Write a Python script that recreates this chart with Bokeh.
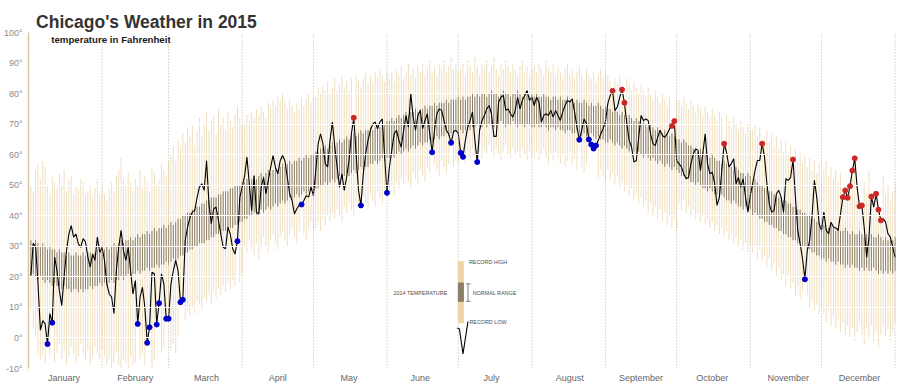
from bokeh.plotting import figure
from bokeh.models import Range1d, FixedTicker, PrintfTickFormatter, Label, ColumnDataSource
from bokeh.embed import file_html
from bokeh.resources import INLINE
from bokeh.core.properties import value

# ---------------- data (degrees Fahrenheit, one value per day) ----------------
month_names = ["January", "February", "March", "April", "May", "June", "July",
               "August", "September", "October", "November", "December"]
month_ticks = [15, 45, 75, 105, 135, 165, 195, 228, 258, 288, 320, 350]
month_ends = [31, 59, 90, 120, 151, 181, 212, 243, 273, 304, 334, 365]
y_ticks = [-10, 0, 10, 20, 30, 40, 50, 60, 70, 80, 90, 100]

temp_2015 = (
    [20.5, 31, 30, 18, 2.5, 5.7, 4.6, -2, 8, 5, 26.5, 22, 15.5, 10.6, 20, 28.6, 34, 36.8, 33, 34,
     30.8, 29.7, 32.5, 31.4, 26.5, 23.2, 27.5, 25.4, 33, 28, 29.7]
    + [25.4, 17.7, 14.4, 13.4, 8, 22, 29.7, 35.2, 28.6, 25.4, 29.7, 22, 14.4, 18.8, 4.6, 13.4, 16.6,
       10, -1.6, 3.5, 21.5, 21, 4.4, 11.4, 21, 17.7, 6.3, 6.3]
    + [17.7, 22, 25.4, 22, 11.7, 12.5, 31.9, 36.3, 39.5, 41.2, 41.7, 46, 49.4, 50.5, 48.3, 58, 43.9,
       37.4, 42.3, 42.8, 38.5, 34, 29.7, 29.2, 36.3, 34, 29.2, 27.5, 31.7, 46, 49.4]
    + [53, 59.2, 50.5, 41.7, 53.2, 41.2, 40.6, 49.4, 52.6, 47.2, 51.6, 55.9, 59.7, 55.9, 53.7, 58,
       59.7, 58, 52.6, 47.2, 45, 40.6, 42.3, 43.4, 43.7, 45, 46.6, 46.1, 49.4, 46.6]
    + [54.8, 63.6, 66.8, 63.6, 57, 56, 64.7, 70.7, 62.5, 56, 49.4, 53.7, 48.3, 52.7, 58, 66.8, 72.1,
       60.3, 48.3, 43.4, 53.7, 60.3, 64.7, 68, 70.1, 70.7, 68.5, 70.7, 71.7, 59.2, 47.5]
    + [55.9, 61.4, 66.8, 68, 64.7, 62.5, 68, 72.8, 69, 80, 72.3, 68, 72.8, 74.5, 68.5, 71.2, 73.4,
       66.8, 60.8, 68, 73.4, 75, 74.5, 71.2, 68, 66.8, 63.9, 67.5, 68, 67]
    + [60.6, 59.3, 64.7, 69, 71.2, 74, 64.7, 57.6, 68, 71.2, 72.8, 75, 76.1, 73.4, 66, 66, 77.2, 78.8,
       79.4, 74.5, 75, 73.4, 72.3, 74.5, 78.8, 75, 77.8, 79.4, 81, 77.8, 78.8]
    + [76.1, 78.8, 77.2, 70.7, 72.8, 73.4, 72.8, 74.5, 72.3, 74.5, 72.8, 71.2, 74, 76.1, 77.8, 77.2,
       78.3, 74, 69, 64.9, 68, 71.7, 70.1, 65, 63.3, 62, 63, 64.7, 66.8, 68.5, 70.7]
    + [76.7, 79.4, 80.9, 74.5, 75.6, 78.8, 81.3, 77, 70.1, 64.7, 62.5, 57.6, 58.1, 65.7, 72.8, 71.2,
       71.7, 71.2, 66.8, 63.6, 63, 65.7, 68, 66.3, 65.7, 66.8, 68.5, 69.4, 71, 58]
    + [57, 56, 53.7, 52.1, 52.6, 57, 60.3, 61.9, 61.4, 54.8, 60.3, 66.8, 57, 53.7, 54.3, 50.5, 43.4,
       46.1, 54.8, 63.6, 60.8, 56, 57, 58.7, 50.5, 52.6, 49.4, 52.1, 46.1, 41.2, 46.6]
    + [50.5, 54.8, 58.1, 58.1, 63.6, 59.2, 50.5, 43.9, 41.2, 41.7, 47.2, 48.3, 46.1, 41.2, 52.1, 51.6,
       52.6, 58.4, 46.1, 35.2, 30.8, 26, 19.2, 28.6, 31.9, 39.5, 51.6, 46.1, 37.4, 35.2]
    + [41.2, 35.2, 34.1, 37.9, 36.3, 36, 35.2, 40.6, 46.1, 48.3, 45.9, 49.7, 54.8, 58.8, 49.4, 43.1,
       43.4, 36, 26.4, 33, 46.3, 42.8, 47.2, 42, 38.5, 39, 37.9, 34.1, 33, 29.7, 26.4]
)

record_high = (
    [50, 48, 55, 57, 52, 58, 56, 50, 47, 53, 51, 49, 54, 50, 55, 48, 52, 53, 47, 50, 49, 52, 51, 47, 48, 50, 46, 49, 52, 47, 50]
    + [47, 45, 49, 51, 48, 53, 55, 59, 52, 50, 54, 51, 48, 52, 50, 55, 49, 53, 51, 48, 56, 54, 50, 52, 57, 55, 53, 58]
    + [60, 63, 58, 65, 62, 67, 64, 69, 66, 70, 63, 68, 72, 66, 70, 74, 68, 71, 73, 67, 75, 70, 72, 68, 74, 71, 69, 73, 76, 72, 70]
    + [70, 73, 71, 74, 72, 75, 73, 76, 74, 72, 77, 75, 78, 76, 79, 78, 80, 77, 75, 78, 76, 74, 77, 75, 79, 76, 78, 80, 77, 79]
    + [79, 82, 80, 83, 81, 84, 80, 82, 85, 81, 83, 86, 82, 84, 81, 85, 71, 86, 84, 82, 85, 87, 83, 86, 84, 87, 85, 88, 86, 84, 87]
    + [85, 87, 84, 88, 86, 89, 85, 87, 90, 86, 88, 85, 89, 87, 90, 86, 88, 91, 87, 89, 86, 90, 88, 91, 87, 89, 92, 88, 90, 87]
    + [88, 90, 86, 91, 89, 87, 92, 89, 86, 90, 88, 91, 87, 89, 92, 88, 86, 90, 88, 91, 89, 87, 90, 88, 86, 89, 91, 87, 89, 86, 88]
    + [89, 87, 90, 88, 86, 91, 88, 87, 90, 86, 89, 87, 85, 88, 90, 86, 88, 85, 87, 89, 86, 84, 88, 86, 85, 87, 84, 86, 88, 85, 87]
    + [86, 84, 80, 85, 83, 86, 80, 76, 85, 83, 81, 84, 82, 80, 83, 81, 79, 82, 80, 78, 81, 79, 77, 80, 78, 76, 79, 68, 70, 78]
    + [78, 76, 79, 77, 75, 78, 76, 74, 77, 75, 73, 76, 74, 72, 75, 73, 71, 74, 72, 62, 73, 71, 69, 72, 70, 68, 71, 69, 67, 70, 68]
    + [68, 70, 66, 69, 62, 65, 68, 64, 67, 63, 66, 62, 65, 61, 64, 60, 63, 57, 62, 58, 61, 57, 60, 56, 59, 55, 58, 54, 57, 53]
    + [55, 58, 53, 56, 52, 55, 51, 54, 45, 47, 45, 48, 53, 57, 50, 42, 42, 51, 47, 55, 45, 48, 46, 41, 38, 53, 47, 50, 45, 48, 51]
)

record_low = (
    [9, 3, 0, -5, -7, -6, -8, -1, -6, 6, -8, -5, -2, -7, -4, -9, -6, -3, -5, -8, -6, -2, -5, -7, -4, -9, -6, -3, -5, -7, -4]
    + [-6, -9, -7, -10, -8, -5, -9, -10, -7, -8, -10, -6, -9, -8, 6, -7, -5, -9, 0, 5, -10, -7, 6, 12, -5, -3, 7, 7]
    + [-4, -2, -5, 0, 13, 14, 6, 9, 7, 10, 8, 12, 11, 9, 13, 12, 14, 11, 15, 13, 16, 14, 17, 15, 18, 16, 19, 17, 33, 18, 21]
    + [30, 28, 32, 29, 27, 31, 26, 29, 33, 30, 28, 32, 34, 31, 29, 33, 35, 32, 30, 34, 36, 33, 31, 35, 45, 34, 32, 36, 38, 35]
    + [36, 38, 35, 39, 37, 40, 38, 41, 39, 42, 40, 38, 43, 41, 44, 42, 40, 45, 43, 44.5, 46, 44, 42, 47, 45, 43, 48, 46, 44, 49, 48.5]
    + [48, 50, 47, 51, 49, 52, 50, 53, 51, 49, 54, 52, 50, 55, 53, 51, 56, 54, 62, 57, 55, 53, 58, 56, 54, 57, 65, 56, 58, 57]
    + [61.5, 60.5, 57, 61, 59, 62, 60, 59, 61, 59, 62, 60, 63, 61, 59, 62, 60, 58, 61, 63, 60, 59, 62, 60, 61, 59, 62, 60, 58, 61, 59]
    + [59, 61, 58, 60, 62, 59, 57, 60, 58, 61, 59, 57, 60, 56, 58, 61, 57, 59, 55, 66, 56, 54, 57, 66, 64.5, 63, 64, 52, 55, 53, 51]
    + [55, 52, 54, 50, 53, 49, 51, 48, 50, 46, 49, 45, 47, 44, 46, 43, 45, 41, 44, 40, 43, 39, 42, 38, 41, 37, 40, 36, 39, 35]
    + [44, 42, 45, 41, 43, 40, 42, 39, 41, 38, 40, 37, 39, 36, 38, 35, 37, 34, 36, 33, 35, 32, 34, 31, 33, 30, 32, 29, 31, 28, 30]
    + [28, 30, 26, 29, 25, 27, 23, 26, 22, 24, 20, 23, 19, 21, 17, 20, 16, 18, 14, 17, 13, 15, 20, 14, 10, 12, 9, 11, 8, 10]
    + [8, 5, 9, 4, 7, 3, 6, 2, 5, 1, 4, 0, 3, -1, 2, 5, 1, -2, 3, 0, 4, -1, 2, -3, 1, 4, 0, 3, -1, 2, 5]
)

normal_high = (
    [32, 31, 32, 31, 30, 31, 30, 29, 30, 29, 29, 28, 29, 28, 28, 27, 28, 27, 27, 28, 27, 27, 28, 27, 28, 28, 27, 28, 29, 28, 29]
    + [29, 30, 29, 30, 31, 30, 31, 32, 31, 32, 32, 33, 32, 33, 34, 33, 34, 34, 35, 34, 35, 36, 35, 36, 36, 37, 36, 37]
    + [38, 37, 38, 39, 39, 40, 40, 41, 41, 42, 42, 43, 43, 44, 44, 45, 45, 46, 46, 46, 47, 47, 48, 48, 48, 49, 49, 50, 50, 50, 51]
    + [51, 52, 51, 52, 53, 52, 53, 54, 53, 54, 55, 54, 55, 56, 55, 56, 57, 56, 57, 58, 57, 58, 58, 59, 58, 59, 60, 59, 60, 60]
    + [61, 61, 62, 62, 63, 62, 63, 64, 63, 64, 65, 64, 65, 66, 65, 66, 67, 66, 67, 68, 67, 68, 68, 69, 68, 69, 70, 69, 70, 70, 71]
    + [71, 72, 71, 72, 73, 72, 73, 74, 73, 74, 74, 75, 74, 75, 75, 76, 75, 76, 76, 77, 76, 77, 77, 77, 78, 77, 78, 78, 78, 79]
    + [78, 79, 78, 79, 79, 80, 79, 80, 79, 80, 80, 79, 80, 81, 80, 80, 79, 80, 81, 80, 80, 79, 80, 80, 81, 80, 79, 80, 80, 79, 80]
    + [79, 80, 79, 79, 80, 79, 79, 78, 79, 79, 78, 79, 78, 78, 79, 78, 78, 77, 78, 77, 77, 78, 77, 76, 77, 76, 76, 77, 76, 75, 76]
    + [75, 75, 74, 75, 74, 73, 74, 73, 72, 73, 72, 71, 72, 71, 70, 71, 70, 69, 70, 69, 68, 69, 68, 67, 68, 67, 66, 67, 66, 65]
    + [65, 64, 65, 64, 63, 63, 62, 62, 61, 62, 61, 60, 60, 59, 60, 59, 58, 58, 57, 58, 57, 56, 56, 55, 56, 55, 54, 54, 53, 54, 53]
    + [51, 52, 51, 50, 50, 49, 49, 48, 48, 47, 47, 46, 46, 45, 45, 44, 44, 43, 43, 42, 42, 41, 41, 40, 40, 39, 39, 38, 38, 37]
    + [37, 36, 36, 37, 36, 35, 36, 35, 35, 36, 35, 34, 35, 34, 34, 35, 34, 33, 34, 33, 34, 33, 33, 34, 33, 32, 33, 32, 33, 32, 33]
)

normal_low = (
    [20, 21, 20, 19, 20, 19, 18, 19, 18, 17, 18, 17, 17, 16, 17, 16, 16, 15, 16, 16, 15, 16, 15, 16, 16, 17, 16, 17, 17, 18, 17]
    + [18, 17, 18, 19, 18, 19, 19, 20, 19, 20, 21, 20, 21, 21, 22, 21, 22, 22, 23, 22, 23, 23, 24, 23, 24, 24, 25, 24]
    + [25, 26, 25, 26, 27, 27, 28, 28, 29, 29, 30, 30, 31, 31, 31, 32, 32, 33, 33, 34, 34, 34, 35, 35, 36, 36, 36, 37, 37, 38, 38]
    + [39, 39, 40, 40, 41, 40, 41, 42, 41, 42, 43, 42, 43, 44, 43, 44, 45, 44, 45, 46, 45, 46, 47, 46, 47, 48, 47, 48, 49, 48]
    + [49, 49, 50, 50, 51, 50, 51, 52, 51, 52, 53, 52, 53, 54, 53, 54, 55, 54, 55, 56, 55, 56, 56, 57, 57, 58, 57, 58, 59, 58, 59]
    + [59, 60, 59, 60, 61, 60, 61, 62, 61, 62, 63, 62, 63, 64, 63, 64, 64, 65, 64, 65, 66, 65, 66, 66, 67, 66, 67, 67, 68, 67]
    + [68, 67, 68, 69, 68, 69, 69, 70, 69, 69, 70, 69, 70, 70, 69, 70, 70, 71, 70, 69, 70, 70, 71, 70, 69, 70, 70, 69, 70, 70, 69]
    + [69, 70, 69, 69, 70, 69, 68, 69, 69, 68, 69, 68, 68, 67, 68, 68, 67, 67, 68, 67, 66, 67, 66, 66, 67, 66, 65, 66, 65, 65, 64]
    + [64, 65, 64, 63, 64, 63, 62, 63, 62, 61, 62, 61, 60, 61, 60, 59, 60, 59, 58, 59, 58, 57, 58, 57, 56, 57, 56, 55, 56, 55]
    + [54, 53, 53, 52, 52, 51, 51, 50, 51, 50, 49, 49, 48, 49, 48, 47, 47, 46, 47, 46, 45, 45, 44, 45, 44, 43, 43, 42, 43, 42, 42]
    + [40, 41, 40, 39, 39, 38, 38, 37, 37, 36, 36, 35, 35, 34, 34, 33, 33, 32, 32, 31, 31, 30, 30, 29, 29, 28, 28, 27, 27, 26]
    + [26, 25, 26, 25, 25, 24, 25, 24, 24, 23, 24, 23, 24, 23, 23, 22, 23, 22, 23, 22, 22, 23, 22, 21, 22, 21, 22, 21, 22, 21, 22]
)

# days of 2015 that broke the record low / record high
record_low_days = [8, 10, 46, 50, 51, 54, 55, 58, 59, 64, 65, 88, 115, 140, 151, 170, 178,
                   182, 183, 189, 232, 236, 237, 238, 239, 327]
record_high_days = [137, 246, 250, 251, 271, 272, 293, 309, 322, 343, 344, 345, 346, 347, 348,
                    350, 351, 355, 357, 358, 359]

# legend sample values
legend_day = [182.1]
legend_record = [5, 25]
legend_normal = [12, 18]
legend_line_x = [180.5, 181.5, 183.0, 185.1]
legend_line_y = [3.3, 2.9, -5.2, 5.4]
legend_bracket_x = [184.3, 185.1, 186.2]

days = list(range(1, 366))
for arr in (temp_2015, record_high, record_low, normal_high, normal_low):
    assert len(arr) == 365, len(arr)

src = ColumnDataSource(dict(day=days, rec_hi=record_high, rec_lo=record_low,
                            n_hi=normal_high, n_lo=normal_low, temp=temp_2015))

FONT = "Liberation Sans"
WHEAT2 = "#F0DFC0"
WHEAT4 = "#8B7E66"
PX_PER_DEG = 3.0545
Y_TOP = -10 + 368 / PX_PER_DEG   # frame reaches the canvas top so the title fits inside

p = figure(width=902, height=388, output_backend="svg", toolbar_location=None,
           x_range=Range1d(0, 367.27), y_range=Range1d(-10, Y_TOP),
           min_border_left=27, min_border_right=2, min_border_top=0, min_border_bottom=20,
           background_fill_color="white", border_fill_color="white", outline_line_color=None)
p.xgrid.visible = False
p.ygrid.visible = False

# record range and normal range bars
p.segment(x0="day", y0="rec_lo", x1="day", y1="rec_hi", source=src,
          line_color=WHEAT2, line_width=1)
p.segment(x0="day", y0="n_lo", x1="day", y1="n_hi", source=src,
          line_color=WHEAT4, line_width=1)
# 2015 temperature
p.line(x="day", y="temp", source=src, line_color="black", line_width=1.1)

# white horizontal grid lines and dotted month separators
p.hspan(y=y_ticks, line_color="white", line_width=1)
p.segment(x0=month_ends, y0=[y_ticks[0]] * len(month_ends), x1=month_ends,
          y1=[y_ticks[-1]] * len(month_ends), line_color="#C2B8A4", line_width=1,
          line_dash="1 2")

# record points
p.scatter(x=record_low_days, y=[temp_2015[d - 1] for d in record_low_days],
          size=5, color="#0000CD")
p.scatter(x=record_high_days, y=[temp_2015[d - 1] for d in record_high_days],
          size=5, color="#CD2626")

# legend
p.vbar(x=legend_day, width=2.1, bottom=[legend_record[0]], top=[legend_record[1]],
       color="#EDD5A8")
p.vbar(x=legend_day, width=2.1, bottom=[legend_normal[0]], top=[legend_normal[1]],
       color=WHEAT4)
p.line(x=legend_line_x, y=legend_line_y, line_color="black", line_width=1.1)
p.segment(x0=[legend_bracket_x[1], legend_bracket_x[0], legend_bracket_x[0]],
          y0=[legend_normal[0], legend_normal[0], 17.7],
          x1=[legend_bracket_x[1], legend_bracket_x[2], legend_bracket_x[2]],
          y1=[17.7, legend_normal[0], 17.7],
          line_color="#7F7F7F", line_width=1)
p.text(x=[185.5, 187.1, 185.7], y=[25.0, 14.8, 5.2],
       text=["RECORD HIGH", "NORMAL RANGE", "RECORD LOW"],
       text_font=value(FONT), text_font_size="5.4px", text_color="#4D4D4D",
       text_baseline="middle", text_align="left")
p.text(x=[176.4], y=[14.8], text=["2014 TEMPERATURE"],
       text_font=value(FONT), text_font_size="5.4px", text_color="#4D4D4D",
       text_baseline="middle", text_align="right")

# titles
p.add_layout(Label(x=3.2, y=103.45, text="Chicago's Weather in 2015", text_font=FONT,
                   text_font_size="17.5px", text_font_style="bold", text_color="#333333",
                   text_baseline="middle", text_align="left"))
p.add_layout(Label(x=9.55, y=97.7, text="temperature in Fahrenheit", text_font=FONT,
                   text_font_size="9.7px", text_font_style="bold", text_color="#1A1A1A",
                   text_baseline="middle", text_align="left"))

# axes
p.yaxis.ticker = FixedTicker(ticks=y_ticks)
p.yaxis.bounds = (y_ticks[0], y_ticks[-1])
p.yaxis.formatter = PrintfTickFormatter(format="%d°")
p.yaxis.axis_line_color = "#D6C6A2"
p.yaxis.axis_line_width = 1.5
p.yaxis.major_tick_line_color = None
p.yaxis.minor_tick_line_color = None
p.yaxis.major_tick_out = 0
p.yaxis.major_tick_in = 0
p.yaxis.minor_tick_out = 0
p.yaxis.major_label_text_font = FONT
p.yaxis.major_label_text_font_size = "9px"
p.yaxis.major_label_text_color = "#8C8C8C"
p.yaxis.major_label_standoff = 6

p.xaxis.ticker = FixedTicker(ticks=month_ticks)
p.xaxis.major_label_overrides = {t: m for t, m in zip(month_ticks, month_names)}
p.xaxis.axis_line_color = None
p.xaxis.major_tick_line_color = None
p.xaxis.minor_tick_line_color = None
p.xaxis.major_tick_out = 0
p.xaxis.major_tick_in = 0
p.xaxis.minor_tick_out = 0
p.xaxis.major_label_text_font = FONT
p.xaxis.major_label_text_font_size = "9px"
p.xaxis.major_label_text_color = "#666666"
p.xaxis.major_label_standoff = 4

open("out.html", "w").write(file_html(p, INLINE))
